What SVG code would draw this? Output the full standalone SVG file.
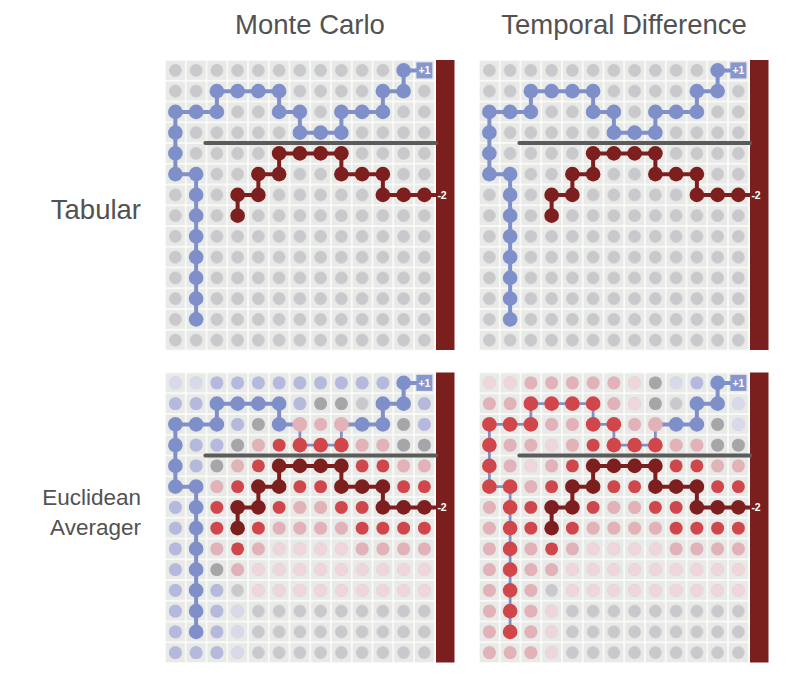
<svg xmlns="http://www.w3.org/2000/svg" xmlns:xlink="http://www.w3.org/1999/xlink" width="800" height="679" viewBox="0 0 800 679">
<style>
.title{font-family:"Liberation Sans",Arial,sans-serif;font-size:27.5px;fill:#525252}
.title2{font-family:"Liberation Sans",Arial,sans-serif;font-size:22.5px;fill:#525252}
.lab{font-family:"Liberation Sans",Arial,sans-serif;font-size:10.5px;font-weight:bold;fill:#fff}
.g{fill:#c9c8cc}.s{fill:#a6a6a8}.v{fill:#d8dae9}.b{fill:#b4b9dd}.B{fill:#7f8fc9}
.q{fill:#efd6da}.p{fill:#e3b1b8}.R{fill:#d0464b}.D{fill:#7d1e1f}
.bl{fill:none;stroke:#8090c9;stroke-width:4;stroke-linejoin:round}
.blt{fill:none;stroke:#8090c9;stroke-width:2.8;stroke-linejoin:round}
.rl{fill:none;stroke:#7d1e1f;stroke-width:4;stroke-linejoin:round}
.gl{stroke:#5b5b5b;stroke-width:4;stroke-linecap:round}
.bar{fill:#7a1e1e}
.cells{fill:url(#cells)}
</style>
<defs>
<pattern id="cells" patternUnits="userSpaceOnUse" x="0" y="0" width="20.75" height="20.75">
<rect width="20.75" height="20.75" fill="#fff"/>
<rect x="0.7" y="0.7" width="19.35" height="19.35" fill="#e8eae7"/>
<circle cx="10.375" cy="10.375" r="6.3" fill="#c9c8cc"/>
</pattern>
<g id="grayline"><line class="gl" x1="30" y1="72.6" x2="261" y2="72.6"/></g>
<g id="plus1"><rect x="241" y="-8" width="16" height="16" fill="#8796cc"/><text class="lab" x="249" y="3.8" text-anchor="middle">+1</text></g>
<g id="minus2"><text class="lab" x="262" y="128.5">-2</text></g>
<polyline id="redline" class="rl" points="62.25,145.25 62.25,124.5 83,124.5 83,103.75 103.75,103.75 103.75,83 166,83 166,103.75 207.5,103.75 207.5,124.5 261,124.5"/>
<g id="redDots" class="D">
<circle cx="62.25" cy="145.25" r="7.3"/><circle cx="62.25" cy="124.5" r="7.3"/><circle cx="83" cy="124.5" r="7.3"/><circle cx="83" cy="103.75" r="7.3"/><circle cx="103.75" cy="103.75" r="7.3"/><circle cx="103.75" cy="83" r="7.3"/><circle cx="124.5" cy="83" r="7.3"/><circle cx="145.25" cy="83" r="7.3"/><circle cx="166" cy="83" r="7.3"/><circle cx="166" cy="103.75" r="7.3"/><circle cx="186.75" cy="103.75" r="7.3"/><circle cx="207.5" cy="103.75" r="7.3"/><circle cx="207.5" cy="124.5" r="7.3"/><circle cx="228.25" cy="124.5" r="7.3"/><circle cx="249" cy="124.5" r="7.3"/>
</g>
<g id="blueDotsTop" class="B">
<circle cx="20.75" cy="103.75" r="7.3"/><circle cx="20.75" cy="124.5" r="7.3"/><circle cx="20.75" cy="145.25" r="7.3"/><circle cx="20.75" cy="166" r="7.3"/><circle cx="20.75" cy="186.75" r="7.3"/><circle cx="20.75" cy="207.5" r="7.3"/><circle cx="20.75" cy="228.25" r="7.3"/><circle cx="20.75" cy="249" r="7.3"/>
<circle cx="0" cy="41.5" r="7.3"/><circle cx="0" cy="62.25" r="7.3"/><circle cx="0" cy="83" r="7.3"/><circle cx="0" cy="103.75" r="7.3"/>
<circle cx="20.75" cy="41.5" r="7.3"/><circle cx="41.5" cy="41.5" r="7.3"/><circle cx="41.5" cy="20.75" r="7.3"/><circle cx="62.25" cy="20.75" r="7.3"/><circle cx="83" cy="20.75" r="7.3"/><circle cx="103.75" cy="20.75" r="7.3"/><circle cx="103.75" cy="41.5" r="7.3"/><circle cx="124.5" cy="41.5" r="7.3"/><circle cx="124.5" cy="62.25" r="7.3"/><circle cx="145.25" cy="62.25" r="7.3"/><circle cx="166" cy="62.25" r="7.3"/><circle cx="166" cy="41.5" r="7.3"/><circle cx="186.75" cy="41.5" r="7.3"/><circle cx="207.5" cy="41.5" r="7.3"/><circle cx="207.5" cy="20.75" r="7.3"/><circle cx="228.25" cy="20.75" r="7.3"/><circle cx="228.25" cy="0" r="7.3"/>
</g>
</defs>
<rect width="800" height="679" fill="#fff"/>

<g id="titles">
<text class="title" x="310" y="34" text-anchor="middle">Monte Carlo</text>
<text class="title" x="624" y="34" text-anchor="middle">Temporal Difference</text>
<text class="title" x="141" y="219" text-anchor="end">Tabular</text>
<text class="title2" x="141" y="505" text-anchor="end">Euclidean</text>
<text class="title2" x="141" y="535" text-anchor="end">Averager</text>
</g>

<g id="panel-mc-tabular" transform="translate(165,60)">
<rect class="cells" width="270" height="290.5"/>
<rect class="bar" x="271" y="0" width="18.5" height="290"/>
<g transform="translate(10.375,10.375)">
<use href="#grayline"/>
<g id="connectors-mc-tabular">
<polyline class="bl" points="20.75,249 20.75,103.75 0,103.75 0,41.5 41.5,41.5 41.5,20.75 103.75,20.75 103.75,41.5 124.5,41.5 124.5,62.25 166,62.25 166,41.5 207.5,41.5 207.5,20.75 228.25,20.75 228.25,0 249,0"/>
<use href="#redline"/>
</g>
<use href="#blueDotsTop"/><use href="#redDots"/>
<use href="#plus1"/><use href="#minus2"/>
</g>
</g>

<g id="panel-td-tabular" transform="translate(479,60)">
<rect class="cells" width="270" height="290.5"/>
<rect class="bar" x="271" y="0" width="18.5" height="290"/>
<g transform="translate(10.375,10.375)">
<use href="#grayline"/>
<g id="connectors-td-tabular">
<polyline class="bl" points="20.75,249 20.75,103.75 0,103.75 0,41.5 41.5,41.5 41.5,20.75 103.75,20.75 103.75,41.5 124.5,41.5 124.5,62.25 166,62.25 166,41.5 207.5,41.5 207.5,20.75 228.25,20.75 228.25,0 249,0"/>
<use href="#redline"/>
</g>
<use href="#blueDotsTop"/><use href="#redDots"/>
<use href="#plus1"/><use href="#minus2"/>
</g>
</g>

<g id="panel-mc-euclid" transform="translate(165,372.5)">
<rect class="cells" width="270" height="290.5"/>
<rect class="bar" x="271" y="0" width="18.5" height="290"/>
<g transform="translate(10.375,10.375)">
<g id="values-mc">
<g class="v"><circle cx="0" cy="0" r="6.4"/><circle cx="20.75" cy="0" r="6.4"/><circle cx="62.25" cy="228.25" r="6.4"/><circle cx="62.25" cy="249" r="6.4"/><circle cx="62.25" cy="269.75" r="6.4"/></g>
<g class="b"><circle cx="41.5" cy="0" r="6.4"/><circle cx="62.25" cy="0" r="6.4"/><circle cx="83" cy="0" r="6.4"/><circle cx="103.75" cy="0" r="6.4"/><circle cx="124.5" cy="0" r="6.4"/><circle cx="145.25" cy="0" r="6.4"/><circle cx="166" cy="0" r="6.4"/><circle cx="186.75" cy="0" r="6.4"/><circle cx="207.5" cy="0" r="6.4"/>
<circle cx="0" cy="20.75" r="6.4"/><circle cx="20.75" cy="20.75" r="6.4"/><circle cx="124.5" cy="20.75" r="6.4"/><circle cx="249" cy="20.75" r="6.4"/>
<circle cx="62.25" cy="41.5" r="6.4"/><circle cx="249" cy="41.5" r="6.4"/>
<circle cx="20.75" cy="62.25" r="6.4"/><circle cx="41.5" cy="62.25" r="6.4"/>
<circle cx="20.75" cy="83" r="6.4"/><circle cx="0" cy="124.5" r="6.4"/><circle cx="0" cy="145.25" r="6.4"/><circle cx="0" cy="166" r="6.4"/><circle cx="0" cy="186.75" r="6.4"/>
<circle cx="0" cy="207.5" r="6.4"/><circle cx="41.5" cy="207.5" r="6.4"/><circle cx="0" cy="228.25" r="6.4"/><circle cx="41.5" cy="228.25" r="6.4"/><circle cx="0" cy="249" r="6.4"/><circle cx="41.5" cy="249" r="6.4"/>
<circle cx="0" cy="269.75" r="6.4"/><circle cx="20.75" cy="269.75" r="6.4"/><circle cx="41.5" cy="269.75" r="6.4"/></g>
<g class="s"><circle cx="145.25" cy="20.75" r="6.4"/><circle cx="166" cy="20.75" r="6.4"/><circle cx="83" cy="41.5" r="6.4"/><circle cx="228.25" cy="41.5" r="6.4"/><circle cx="62.25" cy="62.25" r="6.4"/><circle cx="228.25" cy="62.25" r="6.4"/><circle cx="249" cy="62.25" r="6.4"/><circle cx="41.5" cy="83" r="6.4"/><circle cx="41.5" cy="186.75" r="6.4"/></g>
<g class="p"><circle cx="145.25" cy="41.5" r="6.4"/><circle cx="83" cy="62.25" r="6.4"/><circle cx="186.75" cy="62.25" r="6.4"/><circle cx="207.5" cy="62.25" r="6.4"/>
<circle cx="62.25" cy="83" r="6.4"/><circle cx="228.25" cy="83" r="6.4"/><circle cx="249" cy="83" r="6.4"/><circle cx="41.5" cy="103.75" r="6.4"/>
<circle cx="124.5" cy="124.5" r="6.4"/><circle cx="145.25" cy="124.5" r="6.4"/>
<circle cx="103.75" cy="145.25" r="6.4"/><circle cx="124.5" cy="145.25" r="6.4"/><circle cx="145.25" cy="145.25" r="6.4"/><circle cx="166" cy="145.25" r="6.4"/>
<circle cx="41.5" cy="166" r="6.4"/><circle cx="83" cy="166" r="6.4"/><circle cx="186.75" cy="166" r="6.4"/><circle cx="207.5" cy="166" r="6.4"/><circle cx="228.25" cy="166" r="6.4"/><circle cx="249" cy="166" r="6.4"/>
<circle cx="62.25" cy="186.75" r="6.4"/></g>
<g class="R"><circle cx="103.75" cy="62.25" r="6.4"/><circle cx="83" cy="83" r="6.4"/><circle cx="186.75" cy="83" r="6.4"/><circle cx="207.5" cy="83" r="6.4"/>
<circle cx="62.25" cy="103.75" r="6.4"/><circle cx="124.5" cy="103.75" r="6.4"/><circle cx="145.25" cy="103.75" r="6.4"/><circle cx="228.25" cy="103.75" r="6.4"/><circle cx="249" cy="103.75" r="6.4"/>
<circle cx="41.5" cy="124.5" r="6.4"/><circle cx="103.75" cy="124.5" r="6.4"/><circle cx="166" cy="124.5" r="6.4"/><circle cx="186.75" cy="124.5" r="6.4"/>
<circle cx="41.5" cy="145.25" r="6.4"/><circle cx="83" cy="145.25" r="6.4"/><circle cx="186.75" cy="145.25" r="6.4"/><circle cx="207.5" cy="145.25" r="6.4"/><circle cx="228.25" cy="145.25" r="6.4"/><circle cx="249" cy="145.25" r="6.4"/>
<circle cx="62.25" cy="166" r="6.4"/></g>
<g class="q"><circle cx="103.75" cy="166" r="6.4"/><circle cx="124.5" cy="166" r="6.4"/><circle cx="145.25" cy="166" r="6.4"/><circle cx="166" cy="166" r="6.4"/>
<circle cx="83" cy="186.75" r="6.4"/><circle cx="103.75" cy="186.75" r="6.4"/><circle cx="124.5" cy="186.75" r="6.4"/><circle cx="145.25" cy="186.75" r="6.4"/><circle cx="166" cy="186.75" r="6.4"/><circle cx="186.75" cy="186.75" r="6.4"/><circle cx="207.5" cy="186.75" r="6.4"/><circle cx="228.25" cy="186.75" r="6.4"/><circle cx="249" cy="186.75" r="6.4"/>
<circle cx="83" cy="207.5" r="6.4"/><circle cx="103.75" cy="207.5" r="6.4"/><circle cx="124.5" cy="207.5" r="6.4"/><circle cx="145.25" cy="207.5" r="6.4"/><circle cx="166" cy="207.5" r="6.4"/><circle cx="186.75" cy="207.5" r="6.4"/><circle cx="207.5" cy="207.5" r="6.4"/><circle cx="228.25" cy="207.5" r="6.4"/><circle cx="249" cy="207.5" r="6.4"/></g>
</g>
<use href="#grayline"/>
<g id="connectors-mc-euclid">
<polyline class="bl" points="20.75,249 20.75,103.75 0,103.75 0,41.5 41.5,41.5 41.5,20.75 103.75,20.75 103.75,41.5 124.5,41.5"/>
<polyline class="blt" points="124.5,41.5 124.5,62.25 166,62.25 166,41.5"/>
<polyline class="bl" points="166,41.5 207.5,41.5 207.5,20.75 228.25,20.75 228.25,0 249,0"/>
<use href="#redline"/>
</g>
<g class="B">
<circle cx="20.75" cy="103.75" r="7.3"/><circle cx="20.75" cy="124.5" r="7.3"/><circle cx="20.75" cy="145.25" r="7.3"/><circle cx="20.75" cy="166" r="7.3"/><circle cx="20.75" cy="186.75" r="7.3"/><circle cx="20.75" cy="207.5" r="7.3"/><circle cx="20.75" cy="228.25" r="7.3"/><circle cx="20.75" cy="249" r="7.3"/>
<circle cx="0" cy="41.5" r="7.3"/><circle cx="0" cy="62.25" r="7.3"/><circle cx="0" cy="83" r="7.3"/><circle cx="0" cy="103.75" r="7.3"/>
<circle cx="20.75" cy="41.5" r="7.3"/><circle cx="41.5" cy="41.5" r="7.3"/><circle cx="41.5" cy="20.75" r="7.3"/><circle cx="62.25" cy="20.75" r="7.3"/><circle cx="83" cy="20.75" r="7.3"/><circle cx="103.75" cy="20.75" r="7.3"/><circle cx="103.75" cy="41.5" r="7.3"/>
<circle cx="186.75" cy="41.5" r="7.3"/><circle cx="207.5" cy="41.5" r="7.3"/><circle cx="207.5" cy="20.75" r="7.3"/><circle cx="228.25" cy="20.75" r="7.3"/><circle cx="228.25" cy="0" r="7.3"/>
</g>
<g class="p"><circle cx="124.5" cy="41.5" r="7.3"/><circle cx="166" cy="41.5" r="7.3"/></g>
<g class="R"><circle cx="124.5" cy="62.25" r="7.3"/><circle cx="145.25" cy="62.25" r="7.3"/><circle cx="166" cy="62.25" r="7.3"/></g>
<use href="#redDots"/>
<use href="#plus1"/><use href="#minus2"/>
</g>
</g>

<g id="panel-td-euclid" transform="translate(479,372.5)">
<rect class="cells" width="270" height="290.5"/>
<rect class="bar" x="271" y="0" width="18.5" height="290"/>
<g transform="translate(10.375,10.375)">
<g id="values-td">
<g class="q"><circle cx="0" cy="0" r="6.4"/><circle cx="20.75" cy="0" r="6.4"/><circle cx="145.25" cy="0" r="6.4"/><circle cx="145.25" cy="20.75" r="6.4"/>
<circle cx="62.25" cy="62.25" r="6.4"/><circle cx="41.5" cy="83" r="6.4"/>
<circle cx="103.75" cy="166" r="6.4"/><circle cx="124.5" cy="166" r="6.4"/><circle cx="145.25" cy="166" r="6.4"/><circle cx="166" cy="166" r="6.4"/>
<circle cx="83" cy="186.75" r="6.4"/><circle cx="103.75" cy="186.75" r="6.4"/><circle cx="124.5" cy="186.75" r="6.4"/><circle cx="145.25" cy="186.75" r="6.4"/><circle cx="166" cy="186.75" r="6.4"/><circle cx="186.75" cy="186.75" r="6.4"/><circle cx="207.5" cy="186.75" r="6.4"/><circle cx="228.25" cy="186.75" r="6.4"/><circle cx="249" cy="186.75" r="6.4"/>
<circle cx="83" cy="207.5" r="6.4"/><circle cx="103.75" cy="207.5" r="6.4"/><circle cx="124.5" cy="207.5" r="6.4"/><circle cx="145.25" cy="207.5" r="6.4"/><circle cx="166" cy="207.5" r="6.4"/><circle cx="186.75" cy="207.5" r="6.4"/><circle cx="207.5" cy="207.5" r="6.4"/><circle cx="228.25" cy="207.5" r="6.4"/><circle cx="249" cy="207.5" r="6.4"/>
<circle cx="62.25" cy="228.25" r="6.4"/><circle cx="62.25" cy="249" r="6.4"/><circle cx="62.25" cy="269.75" r="6.4"/></g>
<g class="p"><circle cx="41.5" cy="0" r="6.4"/><circle cx="62.25" cy="0" r="6.4"/><circle cx="83" cy="0" r="6.4"/><circle cx="103.75" cy="0" r="6.4"/><circle cx="124.5" cy="0" r="6.4"/>
<circle cx="0" cy="20.75" r="6.4"/><circle cx="20.75" cy="20.75" r="6.4"/><circle cx="124.5" cy="20.75" r="6.4"/>
<circle cx="62.25" cy="41.5" r="6.4"/><circle cx="83" cy="41.5" r="6.4"/><circle cx="145.25" cy="41.5" r="6.4"/>
<circle cx="20.75" cy="62.25" r="6.4"/><circle cx="41.5" cy="62.25" r="6.4"/><circle cx="83" cy="62.25" r="6.4"/><circle cx="186.75" cy="62.25" r="6.4"/><circle cx="207.5" cy="62.25" r="6.4"/>
<circle cx="20.75" cy="83" r="6.4"/><circle cx="62.25" cy="83" r="6.4"/><circle cx="228.25" cy="83" r="6.4"/><circle cx="249" cy="83" r="6.4"/>
<circle cx="41.5" cy="103.75" r="6.4"/>
<circle cx="0" cy="124.5" r="6.4"/><circle cx="124.5" cy="124.5" r="6.4"/><circle cx="145.25" cy="124.5" r="6.4"/>
<circle cx="0" cy="145.25" r="6.4"/><circle cx="103.75" cy="145.25" r="6.4"/><circle cx="124.5" cy="145.25" r="6.4"/><circle cx="145.25" cy="145.25" r="6.4"/><circle cx="166" cy="145.25" r="6.4"/>
<circle cx="0" cy="166" r="6.4"/><circle cx="41.5" cy="166" r="6.4"/><circle cx="83" cy="166" r="6.4"/><circle cx="186.75" cy="166" r="6.4"/><circle cx="207.5" cy="166" r="6.4"/><circle cx="228.25" cy="166" r="6.4"/><circle cx="249" cy="166" r="6.4"/>
<circle cx="0" cy="186.75" r="6.4"/><circle cx="41.5" cy="186.75" r="6.4"/><circle cx="62.25" cy="186.75" r="6.4"/>
<circle cx="0" cy="207.5" r="6.4"/><circle cx="41.5" cy="207.5" r="6.4"/>
<circle cx="0" cy="228.25" r="6.4"/><circle cx="41.5" cy="228.25" r="6.4"/>
<circle cx="0" cy="249" r="6.4"/><circle cx="41.5" cy="249" r="6.4"/>
<circle cx="0" cy="269.75" r="6.4"/><circle cx="20.75" cy="269.75" r="6.4"/><circle cx="41.5" cy="269.75" r="6.4"/></g>
<g class="s"><circle cx="166" cy="0" r="6.4"/><circle cx="166" cy="20.75" r="6.4"/><circle cx="228.25" cy="41.5" r="6.4"/><circle cx="228.25" cy="62.25" r="6.4"/><circle cx="249" cy="62.25" r="6.4"/></g>
<g class="v"><circle cx="186.75" cy="0" r="6.4"/><circle cx="249" cy="20.75" r="6.4"/><circle cx="249" cy="41.5" r="6.4"/></g>
<g class="b"><circle cx="207.5" cy="0" r="6.4"/></g>
<g class="R"><circle cx="103.75" cy="62.25" r="6.4"/><circle cx="83" cy="83" r="6.4"/><circle cx="186.75" cy="83" r="6.4"/><circle cx="207.5" cy="83" r="6.4"/>
<circle cx="62.25" cy="103.75" r="6.4"/><circle cx="124.5" cy="103.75" r="6.4"/><circle cx="145.25" cy="103.75" r="6.4"/><circle cx="228.25" cy="103.75" r="6.4"/><circle cx="249" cy="103.75" r="6.4"/>
<circle cx="41.5" cy="124.5" r="6.4"/><circle cx="103.75" cy="124.5" r="6.4"/><circle cx="166" cy="124.5" r="6.4"/><circle cx="186.75" cy="124.5" r="6.4"/>
<circle cx="41.5" cy="145.25" r="6.4"/><circle cx="83" cy="145.25" r="6.4"/><circle cx="186.75" cy="145.25" r="6.4"/><circle cx="207.5" cy="145.25" r="6.4"/><circle cx="228.25" cy="145.25" r="6.4"/><circle cx="249" cy="145.25" r="6.4"/>
<circle cx="62.25" cy="166" r="6.4"/></g>
</g>
<use href="#grayline"/>
<g id="connectors-td-euclid">
<polyline class="blt" points="20.75,249 20.75,103.75 0,103.75 0,41.5 41.5,41.5 41.5,20.75 103.75,20.75 103.75,41.5 124.5,41.5 124.5,62.25 166,62.25 166,41.5"/>
<polyline class="bl" points="166,41.5 207.5,41.5 207.5,20.75 228.25,20.75 228.25,0 249,0"/>
<use href="#redline"/>
</g>
<g class="R">
<circle cx="20.75" cy="103.75" r="7.3"/><circle cx="20.75" cy="124.5" r="7.3"/><circle cx="20.75" cy="145.25" r="7.3"/><circle cx="20.75" cy="166" r="7.3"/><circle cx="20.75" cy="186.75" r="7.3"/><circle cx="20.75" cy="207.5" r="7.3"/><circle cx="20.75" cy="228.25" r="7.3"/><circle cx="20.75" cy="249" r="7.3"/>
<circle cx="0" cy="41.5" r="7.3"/><circle cx="0" cy="62.25" r="7.3"/><circle cx="0" cy="83" r="7.3"/><circle cx="0" cy="103.75" r="7.3"/>
<circle cx="20.75" cy="41.5" r="7.3"/><circle cx="41.5" cy="41.5" r="7.3"/><circle cx="41.5" cy="20.75" r="7.3"/><circle cx="62.25" cy="20.75" r="7.3"/><circle cx="83" cy="20.75" r="7.3"/><circle cx="103.75" cy="20.75" r="7.3"/><circle cx="103.75" cy="41.5" r="7.3"/><circle cx="124.5" cy="41.5" r="7.3"/><circle cx="124.5" cy="62.25" r="7.3"/><circle cx="145.25" cy="62.25" r="7.3"/><circle cx="166" cy="62.25" r="7.3"/>
</g>
<g class="p"><circle cx="166" cy="41.5" r="7.3"/></g>
<g class="B"><circle cx="186.75" cy="41.5" r="7.3"/><circle cx="207.5" cy="41.5" r="7.3"/><circle cx="207.5" cy="20.75" r="7.3"/><circle cx="228.25" cy="20.75" r="7.3"/><circle cx="228.25" cy="0" r="7.3"/></g>
<use href="#redDots"/>
<use href="#plus1"/><use href="#minus2"/>
</g>
</g>
</svg>
